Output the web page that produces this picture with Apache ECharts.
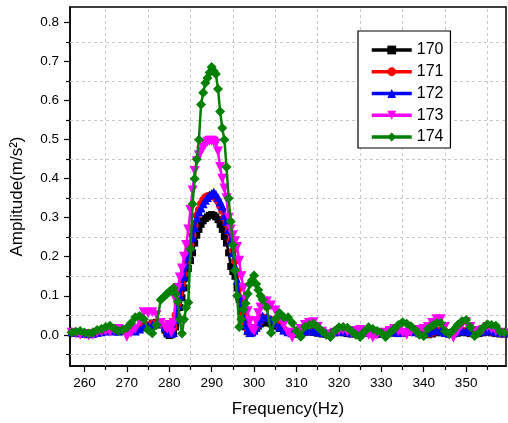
<!DOCTYPE html>
<html>
<head>
<meta charset="utf-8">
<script src="https://cdn.jsdelivr.net/npm/echarts@6/dist/echarts.min.js"></script>
<style>
html,body{margin:0;padding:0;background:#fff;}
#chart{width:508px;height:423px;}
</style>
</head>
<body>
<div id="chart"></div>
<script>
// Frequency grid (Hz)
var freq = [257,258,259,260,261,262,263,264,265,266,267,268,269,270,271,272,273,274,275,276,277,278,279,
279.5,280,280.5,281,281.5,282,282.5,283,283.5,284,284.5,285,285.5,286,286.5,287,287.5,288,288.5,289,289.5,290,290.5,291,291.5,292,292.5,293,293.5,294,294.5,295,295.5,296,296.5,297,297.5,298,298.5,299,299.5,300,300.5,301,301.5,302,
303,304,305,306,307,308,309,310,311,312,313,314,315,316,317,318,319,320,321,322,323,324,325,326,327,328,329,330,331,332,333,334,335,336,337,338,339,340,341,342,343,344,345,346,347,348,349,350,351,352,353,354,355,356,357,358,359];

var names = ['170','171','172','173','174'];

var s170 = [0.005,0.004,0.003,0.002,0.000,0.002,0.004,0.006,0.008,0.010,0.010,0.008,0.010,0.012,0.010,0.012,0.018,0.022,0.025,0.030,0.032,0.025,0.012,
0.002,-0.002,0.000,0.005,0.020,0.045,0.070,0.095,0.120,0.145, 0.170,0.190,0.210,0.235,0.255,0.270,0.283,0.292,0.298,0.302, 0.306,0.308,0.306,0.302,0.295,0.283,0.270,0.252,0.235,0.210, 0.175,0.162,0.150,0.120,0.090,0.060,0.038,0.020,0.008,0.003, 0.005,0.010,0.016,0.022,0.028,0.032,
0.030,0.028,0.022,0.016,0.010,0.006,0.004,0.003,0.004,0.006, 0.008,0.006,0.004,0.002,0.001,0.003,0.005,0.006,0.005,0.003, 0.002,0.003,0.005,0.006,0.004,0.002,0.001,0.003,0.005,0.006, 0.004,0.003,0.004,0.006,0.008,0.006,0.003,0.001,0.000,0.002, 0.005,0.007,0.005,0.002,0.002,0.004,0.006,0.005,0.003,0.002, 0.003,0.005,0.007,0.005,0.003,0.002,0.002];

var s171 = [0.007,0.005,0.006,0.003,0.002,0.005,0.007,0.009,0.011,0.010,0.012,0.011,0.009,0.012,0.014,0.012,0.016,0.022,0.024,0.028,0.030,0.028,0.018,
0.012,0.008,0.010,0.020,0.050,0.080,0.105,0.130,0.155,0.180, 0.205,0.230,0.255,0.280,0.305,0.320,0.335,0.345,0.352,0.355, 0.356,0.357,0.355,0.350,0.342,0.330,0.318,0.300,0.285,0.265, 0.240,0.215,0.190,0.160,0.120,0.085,0.055,0.030,0.015,0.008, 0.006,0.010,0.018,0.028,0.038,0.045,
0.043,0.038,0.032,0.022,0.014,0.008,0.004,0.003,0.005,0.008, 0.011,0.012,0.009,0.005,0.003,0.004,0.007,0.009,0.011,0.008, 0.004,0.003,0.006,0.009,0.010,0.007,0.004,0.003,0.006,0.009, 0.011,0.008,0.005,0.007,0.010,0.012,0.007,0.003,0.002,0.005, 0.009,0.012,0.008,0.003,0.004,0.008,0.011,0.009,0.005,0.003, 0.006,0.009,0.011,0.008,0.005,0.004,0.003];

var s172 = [0.008,0.006,0.005,0.004,0.003,0.004,0.006,0.008,0.010,0.012,0.010,0.010,0.012,0.014,0.012,0.010,0.015,0.020,0.022,0.025,0.030,0.030,0.020,
0.010,0.005,0.004,0.006,0.040,0.075,0.100,0.125,0.150,0.180, 0.200,0.225,0.250,0.275,0.300,0.315,0.325,0.336,0.345,0.352, 0.358,0.362,0.366,0.360,0.352,0.340,0.330,0.305,0.290,0.270, 0.240,0.210,0.175,0.140,0.100,0.070,0.045,0.025,0.012,0.006, 0.008,0.012,0.020,0.030,0.040,0.048,
0.045,0.040,0.030,0.020,0.012,0.008,0.005,0.004,0.006,0.010, 0.012,0.010,0.008,0.006,0.005,0.006,0.008,0.010,0.009,0.007, 0.005,0.006,0.008,0.010,0.008,0.006,0.005,0.007,0.009,0.010, 0.008,0.006,0.008,0.010,0.012,0.008,0.005,0.004,0.006,0.010, 0.012,0.010,0.006,0.004,0.006,0.010,0.012,0.010,0.008,0.006, 0.008,0.010,0.012,0.010,0.008,0.006,0.005];

var s173 = [0.005,0.003,0.000,0.002,-0.002,0.000,0.005,0.008,0.010,0.008,0.012,0.015,0.012,-0.005,0.005,0.015,0.035,0.058,0.055,0.058,0.050,0.030,0.020,
0.015,0.025,0.005,0.030,0.090,0.120,0.147,0.170,0.200,0.230, 0.270,0.320,0.370,0.420,0.445,0.460,0.470,0.480,0.488,0.495, 0.497,0.497,0.495,0.490,0.470,0.430,0.400,0.375,0.350,0.300, 0.270,0.255,0.240,0.225,0.190,0.150,0.120,0.090,0.060,0.035, 0.015,0.010,0.035,0.055,0.070,0.085,
0.085,0.075,0.062,0.045,0.025,0.005,-0.007,0.005,0.015,0.025, 0.030,0.032,0.020,0.008,0.000,-0.007,0.005,0.010,0.012,0.008, 0.005,0.010,0.012,0.005,0.000,-0.007,0.000,0.005,0.002,0.010, 0.015,0.010,0.005,0.000,0.008,0.010,0.012,0.015,0.020,0.030, 0.040,0.040,0.020,0.000,-0.007,0.010,0.025,0.032,0.020,0.010, 0.005,0.012,0.020,0.015,0.010,0.005,0.003];

var s174 = [0.006,0.008,0.010,0.006,0.003,0.006,0.012,0.015,0.020,0.023,0.016,0.010,0.012,0.018,0.030,0.045,0.048,0.040,0.012,0.004,0.025,0.090,0.100,
0.105,0.110,0.115,0.120,0.105,0.085,0.040,0.003,0.040,0.070, 0.083,0.220,0.335,0.400,0.450,0.500,0.590,0.620,0.645,0.658, 0.672,0.686,0.676,0.668,0.630,0.572,0.530,0.500,0.430,0.350, 0.290,0.230,0.165,0.100,0.020,0.040,0.065,0.080,0.105,0.130, 0.140,0.152,0.130,0.115,0.100,0.090,
0.070,0.005,0.040,0.056,0.045,0.045,0.030,0.010,-0.005,0.020, 0.025,0.028,0.020,0.010,0.000,-0.006,0.010,0.019,0.020,0.018, 0.010,0.000,-0.006,0.008,0.019,0.015,0.010,0.005,-0.006,0.005, 0.015,0.025,0.032,0.028,0.022,0.012,0.000,-0.003,0.015,0.023, 0.030,0.030,0.010,0.002,0.012,0.025,0.035,0.038,0.020,-0.003, 0.005,0.018,0.027,0.025,0.023,0.008,0.006];

// Tick labels / gridline positions
var xMajorTicks = [260,270,280,290,300,310,320,330,340,350];
var xMinorTicks = [265,275,285,295,305,315,325,335,345,355];
var yMajorTicks = [0,0.1,0.2,0.3,0.4,0.5,0.6,0.7,0.8];
var yMinorTicks = [-0.05,0.05,0.15,0.25,0.35,0.45,0.55,0.65,0.75];

var FONT = '"Liberation Sans", Arial, sans-serif';
var colors = ['#000000','#ff0000','#0000ff','#ff00ff','#008000'];
var symbols = ['rect','circle','triangle','triangle','diamond'];
var symbolSizes = [7,8,9,10,10];
var symbolRotates = [0,0,0,180,0];
var allVals = [s170,s171,s172,s173,s174];

var chart = echarts.init(document.getElementById('chart'), null, {renderer:'canvas'});

var series = [{
  name: 'grid',
  type: 'line',
  data: [],
  silent: true,
  z: 0,
  markLine: {
    silent: true,
    symbol: ['none','none'],
    label: {show:false},
    z: 1,
    animation: false,
    lineStyle: {color:'#c8c8c8', width:1, type:[3,3]},
    emphasis: {disabled:true},
    data: xMinorTicks.map(function(v){return {xAxis:v};}).concat(yMinorTicks.map(function(v){return {yAxis:v};}))
  }
}];
for (var k = 0; k < 5; k++) {
  (function(k){
    series.push({
      name: names[k],
      type: 'line',
      z: 2 + k,
      data: freq.map(function(f,i){return [f, allVals[k][i]];}),
      symbol: symbols[k],
      symbolSize: symbolSizes[k],
      symbolRotate: symbolRotates[k],
      color: colors[k],
      itemStyle: {color: colors[k]},
      lineStyle: {color: colors[k], width: 2.5},
      emphasis: {disabled: true}
    });
  })(k);
}

var option = {
  animation: false,
  backgroundColor: '#fff',
  grid: {left:70, right:2, top:7, bottom:57, show:true, borderColor:'#000', borderWidth:1.5, backgroundColor:'#fff'},
  legend: {
    orient:'vertical', left:358, top:31,
    itemWidth:40, itemHeight:11, itemGap:5.75,
    padding:[11,7,3,12],
    borderColor:'#000', borderWidth:1.2, backgroundColor:'#fff',
    lineStyle:{width:3.5},
    textStyle:{fontSize:16, color:'#000', fontFamily:FONT, lineHeight:16},
    data: names
  },
  xAxis: [{
    type:'value', min:256.6, max:359.4, position:'bottom',
    axisLine:{show:true, onZero:false, lineStyle:{color:'#000', width:1.5}},
    axisTick:{show:true, length:6, customValues:xMajorTicks, lineStyle:{color:'#000', width:1.2}},
    axisLabel:{customValues:xMajorTicks, color:'#000', fontSize:13.5, fontFamily:FONT, margin:10},
    splitLine:{show:false},
    name:'Frequency(Hz)', nameLocation:'middle', nameGap:35,
    nameTextStyle:{fontSize:17, color:'#000', fontFamily:FONT}
  },{
    type:'value', min:256.6, max:359.4, position:'top', offset:-359,
    axisLine:{show:false, onZero:false},
    axisTick:{show:true, inside:true, length:4, customValues:xMinorTicks, lineStyle:{color:'#000', width:1.2}},
    axisLabel:{show:false},
    splitLine:{show:false}
  }],
  yAxis: [{
    type:'value', min:-0.08, max:0.84, position:'left',
    axisLine:{show:true, onZero:false, lineStyle:{color:'#000', width:1.5}},
    axisTick:{show:true, length:6, customValues:yMajorTicks, lineStyle:{color:'#000', width:1.2}},
    axisLabel:{customValues:yMajorTicks, color:'#000', fontSize:13.5, fontFamily:FONT, margin:11,
      formatter:function(v){return v.toFixed(1);}},
    splitLine:{show:false},
    name:'Amplitude(m/s²)', nameLocation:'middle', nameGap:44,
    nameTextStyle:{fontSize:17, color:'#000', fontFamily:FONT, padding:[0,20,0,0]}
  },{
    type:'value', min:-0.08, max:0.84, position:'right', offset:-436,
    axisLine:{show:false, onZero:false},
    axisTick:{show:true, inside:true, length:4, customValues:yMinorTicks, lineStyle:{color:'#000', width:1.2}},
    axisLabel:{show:false},
    splitLine:{show:false}
  }],
  series: series
};
chart.setOption(option);
</script>
</body>
</html>
